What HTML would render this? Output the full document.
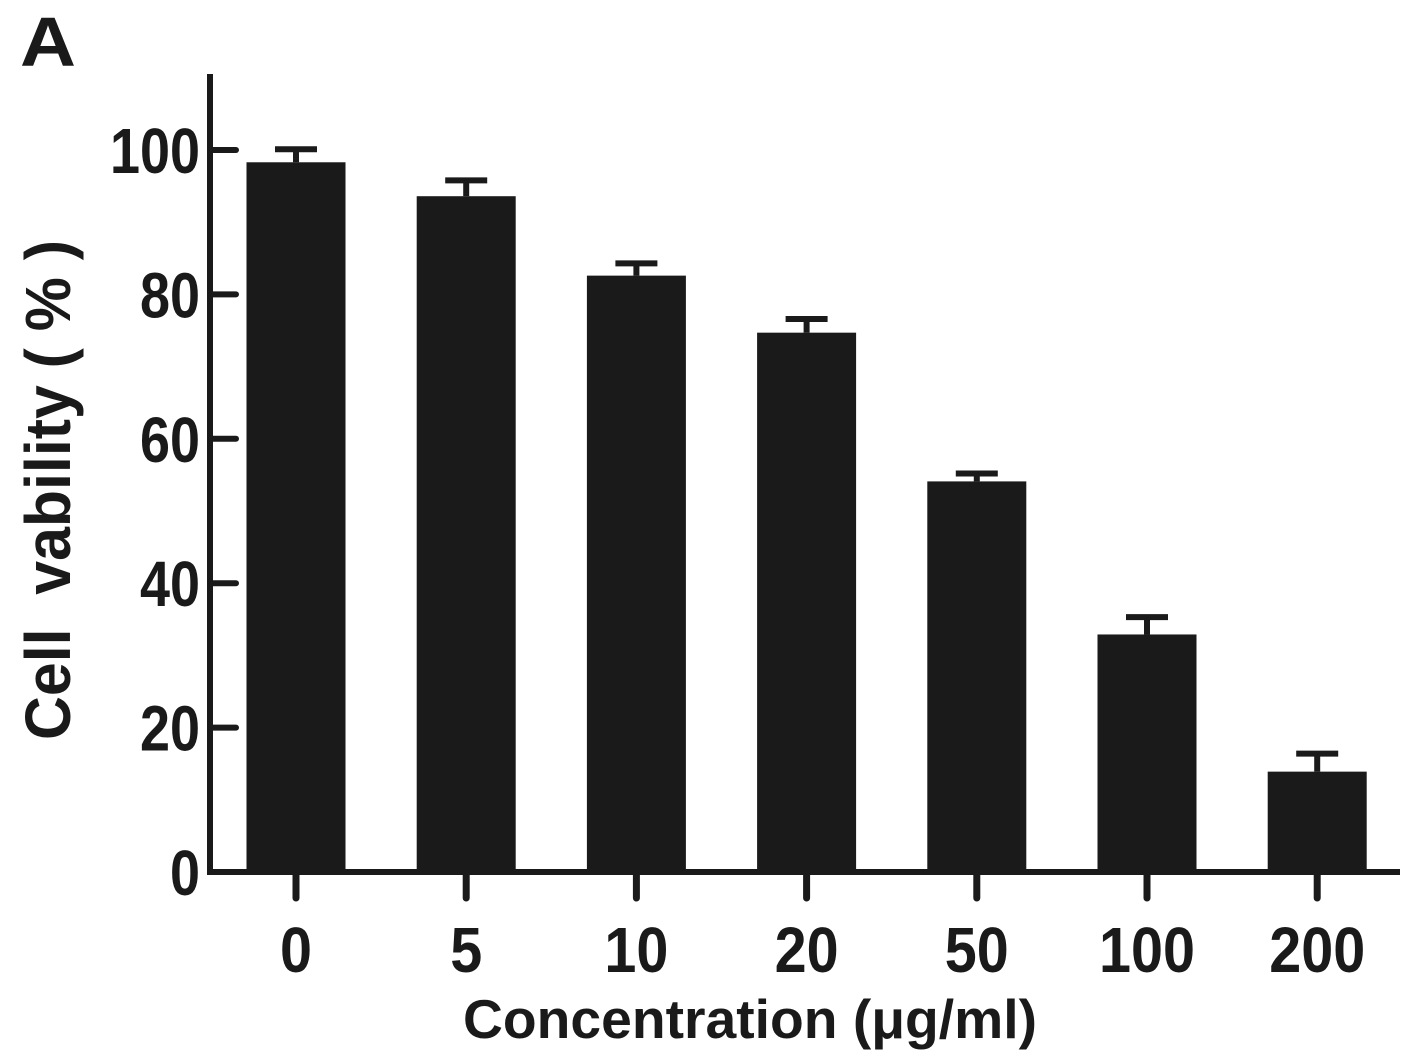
<!DOCTYPE html>
<html><head><meta charset="utf-8"><style>
html,body{margin:0;padding:0;background:#fff;}
svg{display:block;font-family:"Liberation Sans",Arial,sans-serif;font-weight:bold;}
</style></head><body>
<svg id="chart" width="1421" height="1061" viewBox="0 0 1421 1061">
<text x="20" y="66" font-size="70" fill="#1a1a1a" textLength="56" lengthAdjust="spacingAndGlyphs">A</text>
<g id="plot"></g>
<text x="750" y="1038" font-size="55" text-anchor="middle" fill="#1a1a1a" textLength="574" lengthAdjust="spacingAndGlyphs">Concentration (μg/ml)</text>
<text transform="translate(70,490) rotate(-90)" font-size="64" text-anchor="middle" fill="#1a1a1a" textLength="500" lengthAdjust="spacingAndGlyphs" xml:space="preserve">Cell  vability ( % )</text>
</svg>
<script>
const categories = ["0","5","10","20","50","100","200"];
const values = [98.3, 93.6, 82.6, 74.7, 54.1, 32.9, 13.9];
const errors = [1.8, 2.2, 1.7, 1.9, 1.1, 2.4, 2.5];
const yTicks = [0, 20, 40, 60, 80, 100];

const NS = "http://www.w3.org/2000/svg";
const g = document.getElementById("plot");
const y0 = 872, pxPerUnit = 7.22;
const yScale = v => y0 - v * pxPerUnit;
const xLeft = 210, xRight = 1400, firstCenter = 296, step = 170.2, barW = 99;
const xScale = i => firstCenter + i * step;
const col = "#1a1a1a";
function mk(tag, attrs){const e=document.createElementNS(NS,tag);for(const k in attrs)e.setAttribute(k,attrs[k]);g.appendChild(e);return e;}

values.forEach((v,i)=>{
  const cx = xScale(i);
  const top = yScale(v + errors[i]);
  const ln = mk("line",{x1:cx,x2:cx,y1:yScale(v),y2:top,stroke:col,"stroke-width":6});
  
  
  const cap = mk("line",{x1:cx-21,x2:cx+21,y1:top,y2:top,stroke:col,"stroke-width":6});
  
  
  const r = mk("rect",{x:cx-barW/2,y:yScale(v),width:barW,height:y0-yScale(v),fill:col});
  
  
  const t = mk("line",{x1:cx,x2:cx,y1:y0,y2:898,stroke:col,"stroke-width":7,"stroke-linecap":"round"});
  
  
  const s = categories[i];
  const lb = mk("text",{x:cx,y:972,"font-size":64,"text-anchor":"middle",fill:col,textLength:32*s.length,lengthAdjust:"spacingAndGlyphs"});
  lb.textContent = s;
  
  
});

yTicks.forEach(v=>{
  const y = yScale(v);
  const t = mk("line",{x1:xLeft,x2:236,y1:y,y2:y,stroke:col,"stroke-width":6,"stroke-linecap":"round"});
  
  
  const s = String(v);
  const lb = mk("text",{x:200,y:y+23,"font-size":64,"text-anchor":"end",fill:col,textLength:30*s.length,lengthAdjust:"spacingAndGlyphs"});
  lb.textContent = s;
  
  
});

const ya = mk("line",{x1:xLeft,x2:xLeft,y1:74,y2:y0+2,stroke:col,"stroke-width":6});


const xa = mk("line",{x1:xLeft-3,x2:xRight,y1:y0,y2:y0,stroke:col,"stroke-width":6});


</script>
</body></html>
